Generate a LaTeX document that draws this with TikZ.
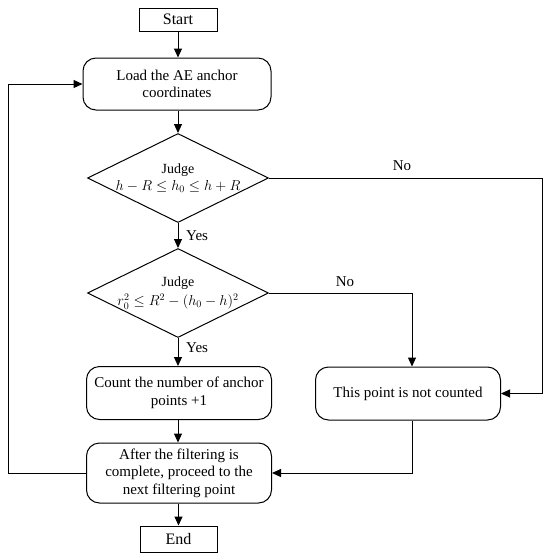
\documentclass[tikz,border=0pt]{standalone}
\usepackage{fontspec}
\setmainfont{Liberation Serif}
\usetikzlibrary{shapes.geometric,arrows.meta}
\begin{document}
\begin{tikzpicture}[x=1pt,y=-1pt,
  every node/.style={font=\fontsize{15}{17.5}\selectfont},
  arr/.style={line width=1pt,-{Triangle[length=9pt,width=8pt]}},
  sqbox/.style={draw,line width=1pt,inner sep=0pt,align=center},
  rbox/.style={draw,line width=1pt,rounded corners=13pt,inner sep=0pt,align=center},
  dia/.style={draw,line width=1pt,diamond,aspect=2,inner sep=0pt,minimum width=181pt,minimum height=89pt},
  diatext/.style={inner sep=0pt,align=center,font=\fontsize{14}{16}\selectfont},
  lab/.style={inner sep=0pt}]
\useasboundingbox (0,0) rectangle (550,558);
\node[sqbox,minimum width=78pt,minimum height=23pt,font=\fontsize{16}{18}\selectfont] (start) at (178,19.5) {Start};
\node[rbox,minimum width=188pt,minimum height=52pt] (load) at (177,84) {Load the AE anchor\\coordinates};
\node[dia] (d1) at (178,178) {};
\node[diatext] (t1) at (d1) {Judge\\[1pt]$h-R\le h_0\le h+R$};
\node[dia] (d2) at (178,293) {};
\node[diatext] (t2) at (d2) {Judge\\[3pt]$r_0^2\le R^2-(h_0-h)^2$};
\node[rbox,minimum width=185pt,minimum height=53pt] (count) at (179,393) {Count the number of anchor\\points +1};
\node[rbox,minimum width=185pt,minimum height=53pt] (nc) at (408,393.5) {This point is not counted};
\node[rbox,minimum width=185pt,minimum height=60pt] (after) at (179,473) {After the filtering is\\complete, proceed to the\\next filtering point};
\node[sqbox,minimum width=77pt,minimum height=26pt,font=\fontsize{16}{18}\selectfont] (end) at (178.5,539) {End};
\coordinate (c1) at (542,178);
\coordinate (c2) at (412,293);
\coordinate (lp) at (8,473);
\draw[arr] (start) -- (start |- load.north);
\draw[arr] (load.south -| d1) -- (d1.north);
\draw[arr] (d1.south) -- (d2.north);
\draw[arr] (d2.south) -- (d2.south |- count.north);
\draw[arr] (count.south -| d2) -- (d2 |- after.north);
\draw[arr] (after.south -| end) -- (end.north);
\draw[arr] (d1.east) -- (c1) |- (nc.east);
\draw[arr] (d2.east) -- (c2) -- (c2 |- nc.north);
\draw[arr] (nc.south -| c2) |- (after.east);
\draw[arr] (after.west) -- (lp) |- (load.west);
\node[lab,anchor=west] (y1) at (186,236) {Yes};
\node[lab,anchor=west] (y2) at (186,348) {Yes};
\node[lab] (n1) at (402,166) {No};
\node[lab] (n2) at (345,282) {No};
\end{tikzpicture}
\end{document}
